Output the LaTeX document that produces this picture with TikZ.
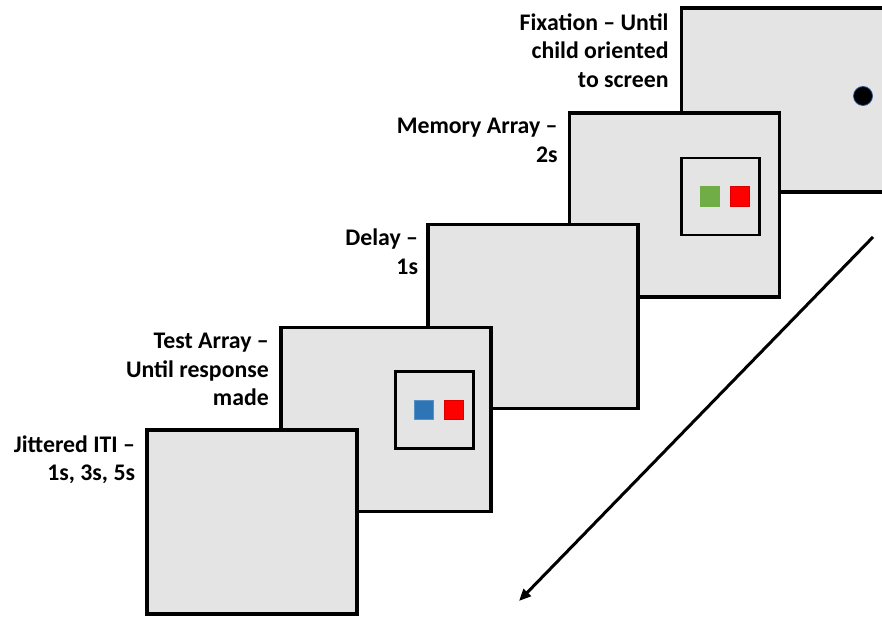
\documentclass[tikz,border=0pt]{standalone}
\usepackage{fontspec}
\setmainfont{Carlito}
\usetikzlibrary{arrows.meta, positioning}
\definecolor{scrgray}{HTML}{E4E4E4}
\definecolor{stimgreen}{HTML}{70AD47}
\definecolor{stimred}{HTML}{FF0000}
\definecolor{stimblue}{HTML}{2E75B6}
\definecolor{dotrim}{HTML}{2F528F}
\tikzset{
  screen/.style ={draw, fill=scrgray, line width=3.5pt, minimum width=210pt, minimum height=184pt, inner sep=0pt},
  inbox/.style  ={draw, fill=scrgray, line width=2.5pt, minimum width=78pt, minimum height=77pt, inner sep=0pt},
  stim/.style   ={minimum size=19.4pt, inner sep=0pt, line width=0.6pt},
  fixdot/.style ={circle, fill=black, draw=dotrim, line width=0.8pt, minimum size=19pt, inner sep=0pt},
  lbl/.style    ={font=\fontsize{23.8}{28.8}\selectfont\bfseries, align=right, inner sep=0pt},
  timearr/.style={-{Triangle[length=12pt, width=10pt]}, line width=3pt},
}
\begin{document}
\begin{tikzpicture}[x=1pt, y=1pt]
  \useasboundingbox (0,0) rectangle (882,616);
  \clip (0,0) rectangle (882,616);
  % screens, back to front
  \node[screen] (fix) at (786.5,516) {};
  \node[fixdot] (dot) at ([shift={(76.5,4)}]fix.center) {};
  \node[lbl, below left=7pt and 11pt of fix.north west] (fixlbl) {Fixation -- Until\\child oriented\\to screen};

  \node[screen] (mem) at (674.5,411) {};
  \node[inbox] (memin) at ([shift={(46,8.5)}]mem.center) {};
  \node[stim, fill=stimgreen, draw=stimgreen] (memg) at ([xshift=-10.5pt]memin.center) {};
  \node[stim, fill=stimred, draw=stimred!85!black, right=10pt of memg] (memr) {};
  \node[lbl, below left=7pt and 10pt of mem.north west] (memlbl) {Memory Array --\\2s};

  \node[screen] (delay) at (533,299.5) {};
  \node[lbl, below left=6pt and 8pt of delay.north west] (delaylbl) {Delay --\\1s};

  \node[screen] (test) at (385.75,196.5) {};
  \node[inbox] (testin) at ([shift={(48.5,9.5)}]test.center) {};
  \node[stim, fill=stimblue, draw=stimblue!80!white] (testb) at ([xshift=-10.5pt]testin.center) {};
  \node[stim, fill=stimred, draw=stimred!85!black, right=10pt of testb] (testr) {};
  \node[lbl, below left=7pt and 10pt of test.north west] (testlbl) {Test Array --\\Until response\\made};

  \node[screen] (iti) at (252,94) {};
  \node[lbl, below left=7pt and 10pt of iti.north west] (itilbl) {Jittered ITI --\\1s, 3s, 5s};

  % time runs down to the left
  \coordinate (tstart) at (873,379);
  \coordinate (tend) at (519,15);
  \draw[timearr] (tstart) -- (tend);
\end{tikzpicture}
\end{document}
